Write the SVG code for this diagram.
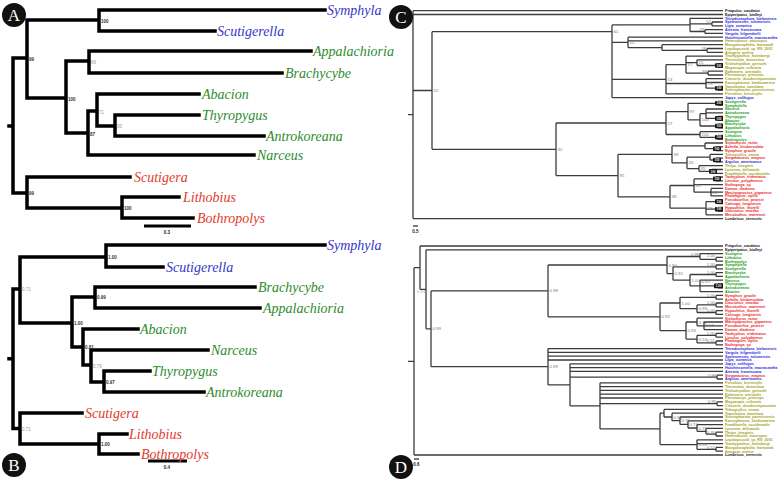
<svg xmlns="http://www.w3.org/2000/svg" width="784" height="481" viewBox="0 0 784 481">
<style>
.br{stroke:#000;stroke-width:3.5;fill:none;stroke-linecap:square}
.t{font-family:"Liberation Serif",serif;font-style:italic;font-size:14px}
.bl{fill:#3535c8}.gr{fill:#2e8b2e}.rd{fill:#e33a2e}
.sa{font-family:"Liberation Sans",sans-serif;font-size:4.5px;font-weight:bold;fill:#333}
.sg{fill:#999;font-weight:normal}
.ln{stroke:#3c3c3c;stroke-width:1.3;fill:none}
.tx{font-family:"Liberation Sans",sans-serif;font-size:3.7px;font-weight:bold}
.k{fill:#111}.b{fill:#2a2ad8}.g{fill:#22a022}.r{fill:#e82a2a}.o{fill:#a3a31f}
.sp{font-family:"Liberation Sans",sans-serif;font-size:4.3px;fill:#777}
.se{text-anchor:end}
.bx{fill:#151515}
.bt{fill:#fff;font-family:"Liberation Sans",sans-serif;font-size:2.9px;font-weight:bold;text-anchor:middle}
.circ{fill:#111}
.lt{fill:#fff;font-family:"Liberation Serif",serif;font-size:17px;text-anchor:middle}
.sc{font-family:"Liberation Sans",sans-serif;font-size:4.5px;font-weight:bold;fill:#222;text-anchor:middle}
</style>
<rect width="784" height="481" fill="#fff"/>

<g id="panel-A">
<g id="A-connectors">
<path class="br" d="M9 126H13M13 58V193M13 58H27M13 193H27M27 20V98M27 20H99M27 98H66M99 10V31M99 10H325M99 31H215M66 61V133M66 61H89M66 133H88M89 51V73M89 51H311M89 73H282M88 111V155M88 111H97M88 155H254M97 94V126M97 94H199M97 126H115M115 115V136M115 115H199M115 136H264M27 177V208M27 177H130M27 208H122M122 197V218M122 197H179M122 218H193"/>
<path d="M144 226H191" stroke="#000" stroke-width="3"/>
</g>
<text class="sc" x="167" y="234">0.3</text>
<g class="sa">
<text x="101" y="22.5">100</text><text x="29" y="60.5">99</text><text class="sg" x="91" y="63.5">69</text><text x="68" y="100.5">100</text><text x="90" y="135.5">87</text><text class="sg" x="99" y="113.5">71</text><text class="sg" x="117" y="128">93</text><text x="29" y="195">99</text><text x="124" y="210">100</text>
</g>
<g id="A-taxa" class="t">
<text id="A-Symphyla" class="bl" x="327" y="14.5">Symphyla</text>
<text id="A-Scutigerella" class="bl" x="217" y="35.5">Scutigerella</text>
<text id="A-Appalachioria" class="gr" x="313" y="55.5">Appalachioria</text>
<text id="A-Brachycybe" class="gr" x="285" y="77.5">Brachycybe</text>
<text id="A-Abacion" class="gr" x="202" y="98.5">Abacion</text>
<text id="A-Thyropygus" class="gr" x="202" y="119.5">Thyropygus</text>
<text id="A-Antrokoreana" class="gr" x="266" y="140.5">Antrokoreana</text>
<text id="A-Narceus" class="gr" x="257" y="159.5">Narceus</text>
<text id="A-Scutigera" class="rd" x="134" y="181.5">Scutigera</text>
<text id="A-Lithobius" class="rd" x="183" y="201.5">Lithobius</text>
<text id="A-Bothropolys" class="rd" x="197" y="222.5">Bothropolys</text>
</g>
<g id="A-badge"><circle class="circ" cx="14" cy="15" r="12"/><text class="lt" x="14" y="21">A</text></g>
</g>

<g id="panel-B">
<g id="B-connectors">
<path class="br" d="M9 358.7H13M13 289V428.5M13 289H20M13 428.5H20M20 257V323M20 257H106M20 323H72M106 245V267M106 245H325M106 267H163M72 297V347M72 297H95M72 347H83M95 287V308M95 287H255M95 308H260M83 329V365M83 329H138M83 365H91M91 350V382M91 350H208M91 382H104M104 371V392M104 371H150M104 392H204M20 413V444M20 413H82M20 444H99M99 434V454M99 434H127M99 454H138"/>
<path d="M148 461H187" stroke="#000" stroke-width="3"/>
</g>
<text class="sc" x="167" y="469">0.4</text>
<g class="sa">
<text x="108" y="258.5">1.00</text><text class="sg" x="22" y="291">0.71</text><text x="97" y="299">0.99</text><text x="74" y="325">1.00</text><text x="85" y="349">0.81</text><text class="sg" x="93" y="367.5">0.79</text><text x="106" y="384">0.97</text><text class="sg" x="22" y="430.5">0.71</text><text x="101" y="446">1.00</text>
</g>
<g id="B-taxa" class="t">
<text id="B-Symphyla" class="bl" x="327" y="249.5">Symphyla</text>
<text id="B-Scutigerella" class="bl" x="166" y="271.5">Scutigerella</text>
<text id="B-Brachycybe" class="gr" x="258" y="291.5">Brachycybe</text>
<text id="B-Appalachioria" class="gr" x="263" y="312.5">Appalachioria</text>
<text id="B-Abacion" class="gr" x="140" y="333.5">Abacion</text>
<text id="B-Narceus" class="gr" x="211" y="354.5">Narceus</text>
<text id="B-Thyropygus" class="gr" x="152" y="375.5">Thyropygus</text>
<text id="B-Antrokoreana" class="gr" x="206" y="396.5">Antrokoreana</text>
<text id="B-Scutigera" class="rd" x="85" y="417.5">Scutigera</text>
<text id="B-Lithobius" class="rd" x="129" y="438.5">Lithobius</text>
<text id="B-Bothropolys" class="rd" x="141" y="458.5">Bothropolys</text>
</g>
<g id="B-badge"><circle class="circ" cx="14" cy="465" r="12"/><text class="lt" x="14" y="471">B</text></g>
</g>

<g id="panel-C">
<g id="C-connectors">
<path class="ln" d="M413 10.7V218.6M413 10.7H723M413 14.5H723M413 90.5H432M413 218.6H723M408 114.6H413
M432 31.7V149.3M432 31.7H612M432 149.3H556
M612 24.9V97.6M612 24.9H690M612 42.4H628M612 79.3H666M612 97.6H723
M690 18.3V31.5M690 18.3H723M690 23.9H712M690 31.5H705
M712 22V25.8M712 22H723M712 25.8H723
M705 29.6V33.4M705 29.6H723M705 33.4H723
M628 37.2V47.6M628 37.2H723M628 40.9H723M628 47.6H662
M662 44.7V50.4M662 44.7H723M662 50.4H707
M707 48.5V52.3M707 48.5H723M707 52.3H723
M666 64.6V93.9M666 64.6H686M666 83.5H706M666 93.9H723
M686 56.1V73.1M686 56.1H723M686 62.7H697M686 73.1H708
M697 59.8V65.5M697 59.8H723M697 65.5H718
M718 63.6V67.4M718 63.6H723M718 67.4H723
M708 71.2V75M708 71.2H723M708 75H723
M706 78.7V88.2M706 78.7H723M706 82.5H723M706 88.2H718
M718 86.3V90.1M718 86.3H723M718 90.1H723
M556 123V175.6M556 123H666M556 175.6H618
M666 111.6V134.5M666 111.6H688M666 134.5H700
M688 103.3V119.9M688 103.3H718M688 119.9H700
M718 101.4V105.2M718 101.4H723M718 105.2H723
M700 113.7V126M700 113.7H706M700 126H718
M706 109V118.4M706 109H723M706 112.8H723M706 118.4H718
M718 116.5V120.3M718 116.5H723M718 120.3H723
M718 124.1V127.9M718 124.1H723M718 127.9H723
M700 131.7V137.3M700 131.7H723M700 137.3H718
M718 135.4V139.2M718 135.4H723M718 139.2H723
M618 154.4V196.9M618 154.4H672M618 196.9H670
M672 145.9V162.9M672 145.9H705M672 162.9H687
M705 143V148.7M705 143H723M705 148.7H716
M716 146.8V150.6M716 146.8H723M716 150.6H723
M687 157.2V168.6M687 157.2H710M687 168.6H699
M710 154.4V160M710 154.4H723M710 160H716
M716 158.1V161.9M716 158.1H723M716 161.9H723
M699 165.7V171.4M699 165.7H723M699 171.4H712
M712 169.5V173.3M712 169.5H723M712 173.3H723
M670 185.5V208.2M670 185.5H694M670 208.2H706
M694 178.9V192.2M694 178.9H716M694 184.6H723M694 192.2H711
M716 177V180.8M716 177H723M716 180.8H723
M711 188.4V195.9M711 188.4H723M711 192.2H723M711 195.9H723
M706 201.6V214.8M706 201.6H718M706 209.2H718M706 214.8H723
M718 199.7V203.5M718 199.7H723M718 203.5H723
M718 207.3V211.1M718 207.3H723M718 211.1H723"/>
<path d="M413 226H418" stroke="#222" stroke-width="1.2"/>
</g>
<text class="sc" x="415.5" y="233">0.5</text>
<g class="sp">
<text x="433.5" y="92">52</text><text x="613.5" y="33.2">61</text><text x="629.5" y="43.9">12</text>
<text class="se" x="711" y="23.3">57</text><text class="se" x="704" y="30.9">73</text><text class="se" x="706" y="49.8">18</text>
<text x="667.5" y="80.8">14</text><text x="687.5" y="66.1">17</text><text x="698.5" y="64.2">15</text><text class="se" x="707" y="72.6">93</text><text x="707.5" y="85">73</text>
<text x="557.5" y="150.8">32</text><text x="667.5" y="124.5">27</text><text x="689.5" y="113.1">97</text><text x="701.5" y="121.4">100</text><text x="701.5" y="136">100</text>
<text x="619.5" y="177.1">95</text><text x="673.5" y="155.9">39</text><text x="688.5" y="164.4">26</text><text x="700.5" y="170.1">35</text>
<text x="695.5" y="187">33</text><text x="712.5" y="193.7">28</text><text x="671.5" y="198.4">38</text><text x="707.5" y="209.7">28</text>
</g>
<g id="C-boxes">
<rect class="bx" x="715" y="63.2" width="8" height="4.6" rx="0.8"/><text class="bt" x="719" y="66.6">100</text>
<rect class="bx" x="715" y="85.9" width="8" height="4.6" rx="0.8"/><text class="bt" x="719" y="89.3">100</text>
<rect class="bx" x="715" y="101" width="8" height="4.6" rx="0.8"/><text class="bt" x="719" y="104.4">100</text>
<rect class="bx" x="715" y="116.1" width="8" height="4.6" rx="0.8"/><text class="bt" x="719" y="119.5">100</text>
<rect class="bx" x="715" y="123.7" width="8" height="4.6" rx="0.8"/><text class="bt" x="719" y="127.1">100</text>
<rect class="bx" x="715" y="135" width="8" height="4.6" rx="0.8"/><text class="bt" x="719" y="138.4">100</text>
<rect class="bx" x="713" y="146.4" width="8" height="4.6" rx="0.8"/><text class="bt" x="717" y="149.8">100</text>
<rect class="bx" x="713" y="157.7" width="8" height="4.6" rx="0.8"/><text class="bt" x="717" y="161.1">100</text>
<rect class="bx" x="709" y="169.1" width="8" height="4.6" rx="0.8"/><text class="bt" x="713" y="172.5">100</text>
<rect class="bx" x="713" y="176.6" width="8" height="4.6" rx="0.8"/><text class="bt" x="717" y="180">100</text>
<rect class="bx" x="715" y="199.3" width="8" height="4.6" rx="0.8"/><text class="bt" x="719" y="202.7">100</text>
<rect class="bx" x="715" y="206.9" width="8" height="4.6" rx="0.8"/><text class="bt" x="719" y="210.3">100</text>
</g>
<g id="C-taxa" class="tx">
<text class="k" x="725" y="12">Priapulus_caudatus</text>
<text class="k" x="725" y="15.8">Epiperipatus_biolleyi</text>
<text class="b" x="725" y="19.6">Tetrodontophora_bielanensis</text>
<text class="b" x="725" y="23.3">Speleonectes_tulumensis</text>
<text class="b" x="725" y="27.1">Ligia_oceanica</text>
<text class="b" x="725" y="30.9">Artemia_franciscana</text>
<text class="b" x="725" y="34.7">Vargula_hilgendorfii</text>
<text class="b" x="725" y="38.5">Hutchinsoniella_macracantha</text>
<text class="o" x="725" y="42.2">Heterodoxus_macropus</text>
<text class="o" x="725" y="46">Mongoloraphidia_harmandi</text>
<text class="o" x="725" y="49.8">Lepidopsocid_sp_RS_2001</text>
<text class="o" x="725" y="53.6">Artogeia_melete</text>
<text class="o" x="725" y="57.4">Trachypachus_holmbergi</text>
<text class="o" x="725" y="61.1">Thermobia_domestica</text>
<text class="o" x="725" y="64.9">Tricholepidion_gertschi</text>
<text class="o" x="725" y="68.7">Megacopta_cribraria</text>
<text class="o" x="725" y="72.5">Ephemera_orientalis</text>
<text class="o" x="725" y="76.3">Pteronarcys_princeps</text>
<text class="o" x="725" y="80">Crioceris_duodecimpunctata</text>
<text class="o" x="725" y="83.8">Karoophasma_biedouwense</text>
<text class="o" x="725" y="87.6">Tamolanica_tamolana</text>
<text class="o" x="725" y="91.4">Sclerophasma_paresisensis</text>
<text class="o" x="725" y="95.2">Petrobius_brevistylis</text>
<text class="b" x="725" y="98.9">Japyx_solifugus</text>
<text class="g" x="725" y="102.7">Scutigerella</text>
<text class="g" x="725" y="106.5">Symphylella</text>
<text class="g" x="725" y="110.3">Narceus</text>
<text class="g" x="725" y="114.1">Antrokoreana</text>
<text class="g" x="725" y="117.8">Thyropygus</text>
<text class="g" x="725" y="121.6">Abacion</text>
<text class="g" x="725" y="125.4">Brachycybe</text>
<text class="g" x="725" y="129.2">Appalachioria</text>
<text class="g" x="725" y="133">Scutigera</text>
<text class="g" x="725" y="136.7">Lithobius</text>
<text class="g" x="725" y="140.5">Bothropolys</text>
<text class="r" x="725" y="144.3">Stylochyrus_rarior</text>
<text class="r" x="725" y="148.1">Achelia_bituberculata</text>
<text class="r" x="725" y="151.9">Nymphon_gracile</text>
<text class="o" x="725" y="155.7">Teleogryllus_emma</text>
<text class="r" x="725" y="159.4">Steganacarus_magnus</text>
<text class="b" x="725" y="163.2">Argulus_americanus</text>
<text class="o" x="725" y="167">Thrips_imaginis</text>
<text class="o" x="725" y="170.8">Lycorma_delicatula</text>
<text class="o" x="725" y="174.6">Frankliniella_occidentalis</text>
<text class="r" x="725" y="178.3">Tachypleus_tridentatus</text>
<text class="r" x="725" y="182.1">Limulus_polyphemus</text>
<text class="r" x="725" y="185.9">Nothopuga_sp</text>
<text class="r" x="725" y="189.7">Damon_diadema</text>
<text class="r" x="725" y="193.5">Mastigoproctus_giganteus</text>
<text class="r" x="725" y="197.2">Phalangium_opilio</text>
<text class="r" x="725" y="201">Pseudocellus_pearsei</text>
<text class="r" x="725" y="204.8">Calisoga_longitarsis</text>
<text class="r" x="725" y="208.6">Hypochilus_thorelli</text>
<text class="r" x="725" y="212.4">Uroctonus_mordax</text>
<text class="r" x="725" y="216.1">Mesobuthus_martensii</text>
<text class="k" x="725" y="219.9">Lumbricus_terrestris</text>
</g>
<g id="C-badge"><circle class="circ" cx="401" cy="17" r="12"/><text class="lt" x="401" y="23">C</text></g>
</g>

<g id="panel-D">
<g id="D-connectors">
<path class="ln" d="M414 267.7V455M414 267.7H420M414 455H723M408 361.3H414
M420 246V289.3M420 246H723M420 289.3H426
M426 249.8V328.8M426 249.8H723M426 328.8H431
M431 290.9V366.7M431 290.9H548M431 366.7H548
M548 265V316.8M548 265H667M548 316.8H660
M667 256.5V273.6M667 256.5H700M667 273.6H673
M700 253.6V259.3M700 253.6H723M700 259.3H716
M716 257.4V261.2M716 257.4H723M716 261.2H723
M673 266.9V280.2M673 266.9H716M673 280.2H690
M716 265V268.8M716 265H723M716 268.8H723
M690 274.5V285.9M690 274.5H716M690 285.9H700
M716 272.6V276.4M716 272.6H723M716 276.4H723
M700 280.2V291.6M700 280.2H723M700 285.9H718M700 291.6H723
M718 284V287.8M718 284H723M718 287.8H723
M660 303V330.6M660 303H680M660 330.6H686
M680 297.3V308.7M680 297.3H716M680 308.7H697
M716 295.4V299.2M716 295.4H723M716 299.2H723
M697 304.9V312.5M697 304.9H716M697 312.5H716
M716 303V306.8M716 303H723M716 306.8H723
M716 310.6V314.4M716 310.6H723M716 314.4H723
M686 322V339.1M686 322H697M686 339.1H697
M697 318.2V325.8M697 318.2H723M697 325.8H704
M704 322V329.6M704 322H723M704 325.8H723M704 329.6H723
M697 335.3V342.9M697 335.3H716M697 342.9H716
M716 333.4V337.2M716 333.4H723M716 337.2H723
M716 341V344.8M716 341H723M716 344.8H723
M548 348.6V384.9M548 348.6H723M548 352.4H723M548 356.2H723M548 360H723M548 384.9H570
M570 363.8V405.9M570 363.8H723M570 367.6H723M570 371.4H723M570 377.1H717M570 405.9H600
M717 375.2V379M717 375.2H723M717 379H723
M600 382.8V428.9M600 382.8H723M600 386.6H723M600 390.4H723M600 394.2H723M600 398H723M600 403.7H717M600 428.9H660
M717 401.8V405.6M717 401.8H723M717 405.6H723
M660 413.2V444.6M660 413.2H664M660 444.6H697
M664 409.4V417M664 409.4H723M664 417H672
M672 413.2V420.7M672 413.2H723M672 420.7H680
M680 417V424.4M680 417H723M680 424.4H688
M688 420.8V428M688 420.8H723M688 428H697
M697 424.6V431.3M697 424.6H723M697 431.3H706
M706 428.4V434.1M706 428.4H723M706 434.1H716
M716 432.2V436M716 432.2H723M716 436H723
M697 439.8V449.3M697 439.8H723M697 443.6H723M697 449.3H716
M716 447.4V451.2M716 447.4H723M716 451.2H723"/>
<path d="M414 459H419" stroke="#222" stroke-width="1.2"/>
</g>
<text class="sc" x="416.5" y="466">0.6</text>
<g class="sp">
<text x="417" y="293" fill="#aaa">0.91</text>
<text x="432.5" y="330.3">0.99</text><text x="549.5" y="292.4">0.98</text><text x="549.5" y="368.2">0.99</text>
<text x="668.5" y="266.5">0.80</text><text class="se" x="699" y="255.8">0.99</text><text x="674.5" y="275.1">0.92</text><text x="691.5" y="281.7">1.00</text><text x="701.5" y="283.4">0.95</text>
<text class="se" x="715" y="256.8">1.00</text><text class="se" x="715" y="266.3">1.00</text><text class="se" x="715" y="273.9">1.00</text>
<text x="661.5" y="318.3">0.92</text><text x="681.5" y="304.5">1.00</text><text x="698.5" y="310.2">0.99</text><text x="687.5" y="332.1">0.93</text><text x="698.5" y="323.5">0.72</text><text x="705.5" y="327.3">0.52</text><text x="698.5" y="340.6">0.54</text>
<text class="se" x="715" y="296.7">1.00</text><text class="se" x="715" y="304.3">1.00</text><text class="se" x="715" y="311.9">1.00</text><text class="se" x="715" y="334.7">1.00</text><text class="se" x="715" y="342.3">0.51</text>
<text class="se" x="716" y="376.5">0.99</text><text class="se" x="716" y="403.1">0.99</text>
<text x="673.5" y="418.7">0.93</text><text x="681.5" y="422.4">0.76</text><text x="689.5" y="426">0.74</text><text x="698.5" y="429.7">0.78</text><text class="se" x="715" y="433.5">0.76</text>
<text x="698.5" y="446.1">0.99</text><text class="se" x="715" y="448.7">0.52</text>
</g>
<g id="D-boxes"><rect class="bx" x="714" y="283.6" width="9" height="4.6" rx="0.8"/><text class="bt" x="718.5" y="287">1.00</text></g>
<g id="D-taxa" class="tx">
<text class="k" x="725" y="247.3">Priapulus_caudatus</text>
<text class="k" x="725" y="251.1">Epiperipatus_biolleyi</text>
<text class="g" x="725" y="254.9">Scutigera</text>
<text class="g" x="725" y="258.7">Lithobius</text>
<text class="g" x="725" y="262.5">Bothropolys</text>
<text class="g" x="725" y="266.3">Symphylella</text>
<text class="g" x="725" y="270.1">Scutigerella</text>
<text class="g" x="725" y="273.9">Brachycybe</text>
<text class="g" x="725" y="277.7">Appalachioria</text>
<text class="g" x="725" y="281.5">Narceus</text>
<text class="g" x="725" y="285.3">Thyropygus</text>
<text class="g" x="725" y="289.1">Antrokoreana</text>
<text class="g" x="725" y="292.9">Abacion</text>
<text class="r" x="725" y="296.7">Nymphon_gracile</text>
<text class="r" x="725" y="300.5">Achelia_bituberculata</text>
<text class="r" x="725" y="304.3">Uroctonus_mordax</text>
<text class="r" x="725" y="308.1">Mesobuthus_martensii</text>
<text class="r" x="725" y="311.9">Hypochilus_thorelli</text>
<text class="r" x="725" y="315.7">Calisoga_longitarsis</text>
<text class="r" x="725" y="319.5">Stylochyrus_rarior</text>
<text class="r" x="725" y="323.3">Mastigoproctus_giganteus</text>
<text class="r" x="725" y="327.1">Pseudocellus_pearsei</text>
<text class="r" x="725" y="330.9">Damon_diadema</text>
<text class="r" x="725" y="334.7">Tachypleus_tridentatus</text>
<text class="r" x="725" y="338.5">Limulus_polyphemus</text>
<text class="r" x="725" y="342.3">Phalangium_opilio</text>
<text class="r" x="725" y="346.1">Nothopuga_sp</text>
<text class="b" x="725" y="349.9">Tetrodontophora_bielanensis</text>
<text class="b" x="725" y="353.7">Vargula_hilgendorfii</text>
<text class="b" x="725" y="357.5">Speleonectes_tulumensis</text>
<text class="b" x="725" y="361.3">Ligia_oceanica</text>
<text class="b" x="725" y="365.1">Japyx_solifugus</text>
<text class="b" x="725" y="368.9">Hutchinsoniella_macracantha</text>
<text class="b" x="725" y="372.7">Artemia_franciscana</text>
<text class="r" x="725" y="376.5">Steganacarus_magnus</text>
<text class="b" x="725" y="380.3">Argulus_americanus</text>
<text class="o" x="725" y="384.1">Petrobius_brevistylis</text>
<text class="o" x="725" y="387.9">Thermobia_domestica</text>
<text class="o" x="725" y="391.7">Tricholepidion_gertschi</text>
<text class="o" x="725" y="395.5">Ephemera_orientalis</text>
<text class="o" x="725" y="399.3">Pteronarcys_princeps</text>
<text class="o" x="725" y="403.1">Megacopta_cribraria</text>
<text class="o" x="725" y="406.9">Crioceris_duodecimpunctata</text>
<text class="o" x="725" y="410.7">Teleogryllus_emma</text>
<text class="o" x="725" y="414.5">Tamolanica_tamolana</text>
<text class="o" x="725" y="418.3">Sclerophasma_paresisensis</text>
<text class="o" x="725" y="422.1">Karoophasma_biedouwense</text>
<text class="o" x="725" y="425.9">Frankliniella_occidentalis</text>
<text class="o" x="725" y="429.7">Lycorma_delicatula</text>
<text class="o" x="725" y="433.5">Thrips_imaginis</text>
<text class="o" x="725" y="437.3">Heterodoxus_macropus</text>
<text class="o" x="725" y="441.1">Lepidopsocid_sp_RS_2001</text>
<text class="o" x="725" y="444.9">Trachypachus_holmbergi</text>
<text class="o" x="725" y="448.7">Mongoloraphidia_harmandi</text>
<text class="o" x="725" y="452.5">Artogeia_melete</text>
<text class="k" x="725" y="456.3">Lumbricus_terrestris</text>
</g>
<g id="D-badge"><circle class="circ" cx="401" cy="467" r="12"/><text class="lt" x="401" y="473">D</text></g>
</g>
</svg>
